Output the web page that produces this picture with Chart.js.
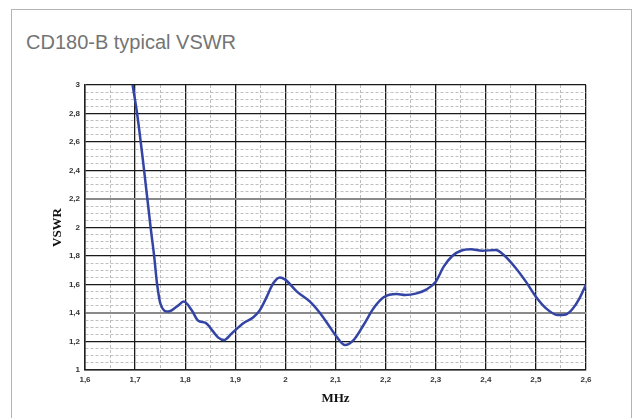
<!DOCTYPE html>
<html><head><meta charset="utf-8">
<script src="https://cdn.jsdelivr.net/npm/chart.js@4"></script>
<style>
html,body{margin:0;padding:0;background:#fff;width:638px;height:418px;overflow:hidden;}
#frame{position:absolute;left:11px;top:9px;width:621px;height:430px;border:1px solid #b4b4b4;box-sizing:border-box;}
#title{position:absolute;left:26px;top:31px;line-height:23px;font-family:"Liberation Sans",Arial,sans-serif;font-size:20px;color:#747474;}
canvas{position:absolute;left:0;top:0;}
</style></head>
<body>
<div id="frame"></div>
<div id="title">CD180-B typical VSWR</div>
<canvas id="c" width="638" height="418"></canvas>
<script>
const freqMHz = [1.695,1.704,1.718,1.731,1.738,1.744,1.751,1.766,1.785,1.797,1.813,1.826,1.840,1.856,1.866,1.877,1.893,1.916,1.936,1.949,1.963,1.976,1.989,1.999,2.023,2.049,2.069,2.089,2.102,2.119,2.136,2.156,2.176,2.196,2.222,2.239,2.262,2.282,2.300,2.316,2.333,2.350,2.370,2.393,2.420,2.436,2.460,2.480,2.500,2.520,2.543,2.560,2.573,2.587,2.600];
const vswr    = [3.00,2.80,2.40,2.00,1.80,1.60,1.46,1.41,1.45,1.48,1.42,1.346,1.332,1.269,1.227,1.21,1.257,1.328,1.37,1.42,1.515,1.61,1.65,1.636,1.55,1.48,1.40,1.30,1.234,1.175,1.21,1.316,1.433,1.51,1.533,1.526,1.538,1.566,1.62,1.725,1.80,1.837,1.847,1.837,1.842,1.807,1.714,1.62,1.514,1.433,1.386,1.39,1.428,1.503,1.60];
const xMin = 1.6, xMax = 2.6, xStep = 0.05;
const yMin = 1, yMax = 3, yStep = 0.05;
const grayMajorY = [1.4, 2.2];

const fmt = v => (Math.round(v*10)/10).toString().replace('.', ',');
const isMajorX = v => Math.round(v*100) % 10 === 0;
const isMajorY = v => Math.round(v*100) % 20 === 0;
const isGrayY = v => grayMajorY.some(g => Math.abs(g - v) < 1e-6);

new Chart(document.getElementById('c'), {
  type: 'line',
  data: {
    datasets: [{
      data: freqMHz.map((f,i)=>({x:f,y:vswr[i]})),
      borderColor: '#3444a4',
      borderWidth: 2.5,
      pointRadius: 0,
      cubicInterpolationMode: 'monotone',
      fill: false
    }]
  },
  options: {
    responsive: false,
    animation: false,
    devicePixelRatio: 1,
    layout: {padding: {left: 40, top: 85, right: 52, bottom: 0}},
    plugins: {legend: {display: false}, tooltip: {enabled: false}},
    scales: {
      x: {
        type: 'linear', min: xMin, max: xMax,
        afterFit: s => { s.height = 48; },
        ticks: {
          stepSize: xStep, autoSkip: false, maxRotation: 0, padding: 5,
          color: '#333', font: {family: 'Liberation Sans', size: 8, weight: 'bold'},
          callback: v => isMajorX(v) ? fmt(v) : ''
        },
        grid: {
          drawTicks: false,
          color: c => isMajorX(c.tick.value) ? '#1a1a1a' : '#bcbcbc',
          lineWidth: c => isMajorX(c.tick.value) ? 1.3 : 1
        },
        border: {display: true, color: '#222', width: 1.5, dash: c => (c.tick && !isMajorX(c.tick.value)) ? [3,2] : []},
        title: {display: true, text: 'MHz', color: '#111', padding: {top: 4, bottom: 12},
          font: {family: 'Liberation Serif', size: 13, weight: 'bold'}}
      },
      y: {
        type: 'linear', min: yMin, max: yMax,
        afterFit: s => { s.width = 45; },
        ticks: {
          stepSize: yStep, autoSkip: false, padding: 5,
          color: '#333', font: {family: 'Liberation Sans', size: 8, weight: 'bold'},
          callback: v => isMajorY(v) ? fmt(v) : ''
        },
        grid: {
          drawTicks: false,
          color: c => isMajorY(c.tick.value) ? (isGrayY(c.tick.value) ? '#8a8a8a' : '#1a1a1a') : '#c0c0c0',
          lineWidth: c => isMajorY(c.tick.value) ? (isGrayY(c.tick.value) ? 2 : 1.3) : 1
        },
        border: {display: true, color: '#222', width: 1.5, dash: c => (c.tick && !isMajorY(c.tick.value)) ? [3,2] : []},
        title: {display: true, text: 'VSWR', color: '#111', padding: {top: 10, bottom: 4},
          font: {family: 'Liberation Serif', size: 13, weight: 'bold'}}
      }
    }
  }
});
</script>
</body></html>
